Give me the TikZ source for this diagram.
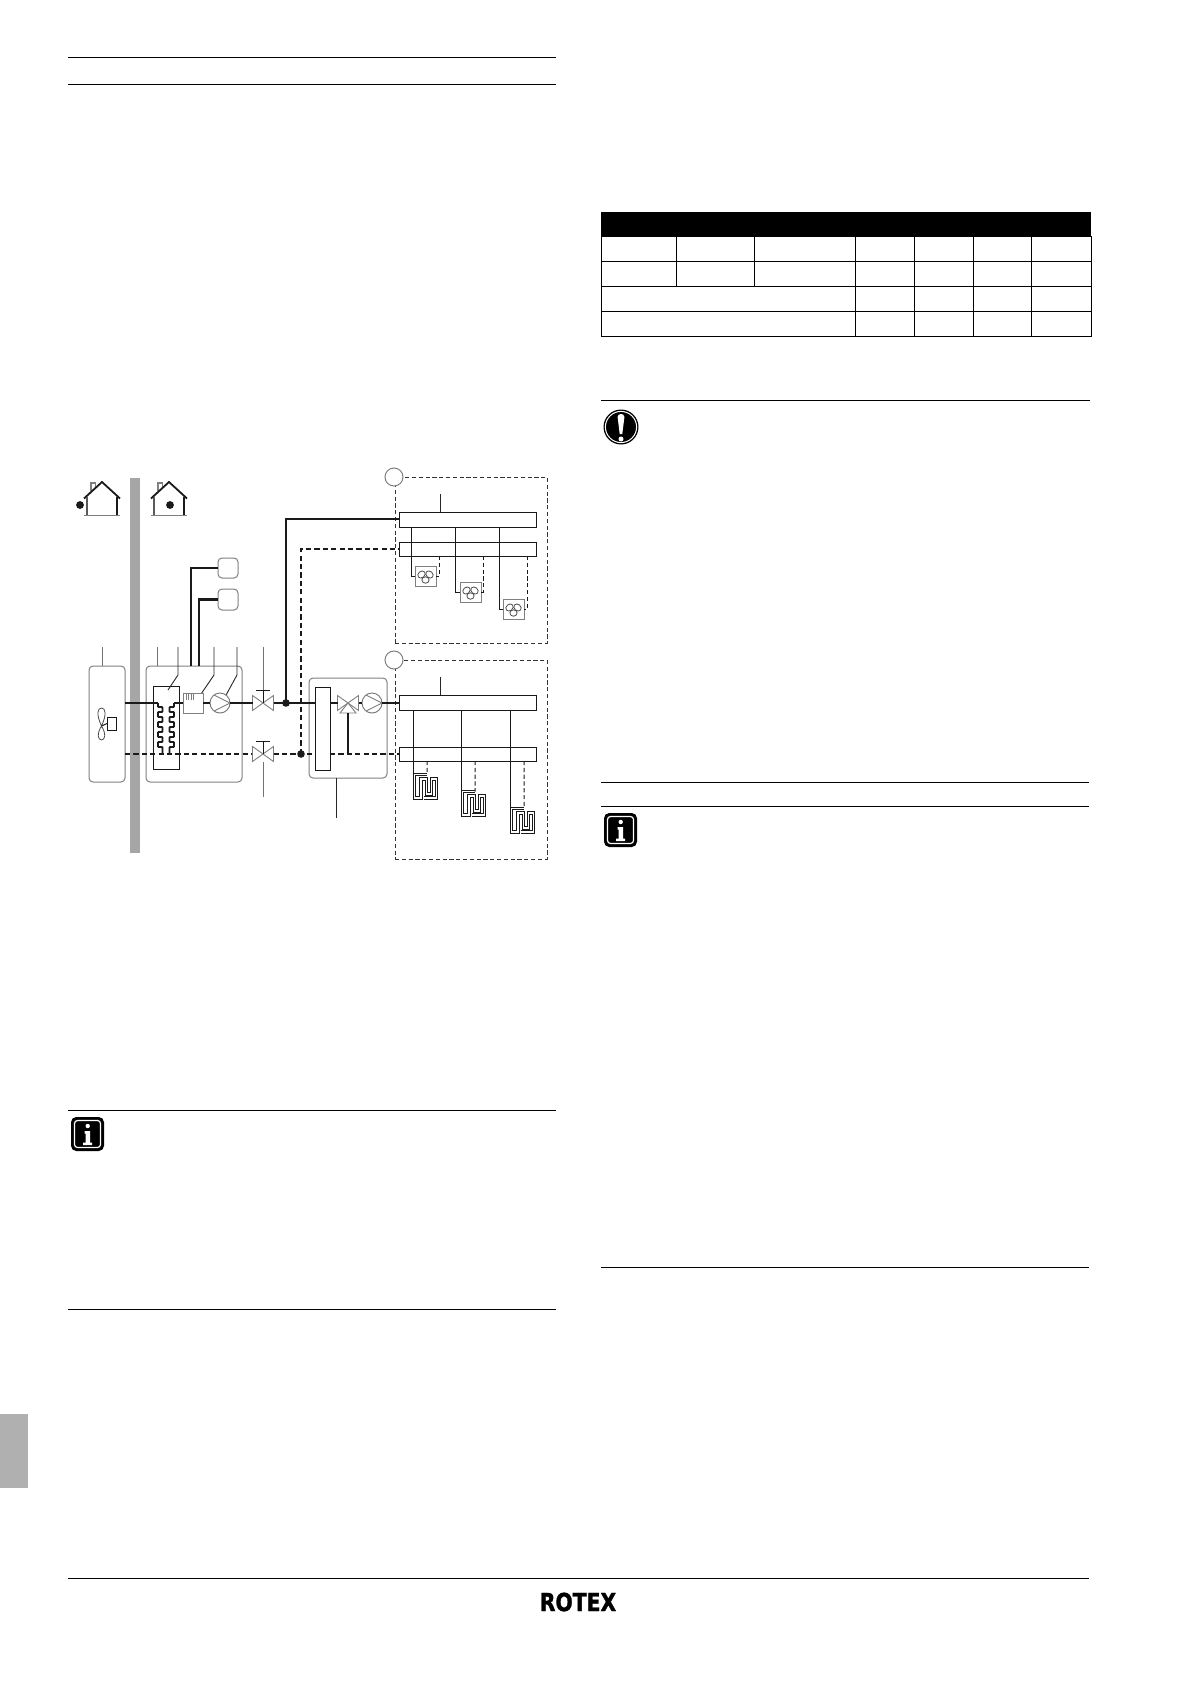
\documentclass[tikz,border=0pt]{standalone}
\usepackage{fontspec}
\usetikzlibrary{calc}
\newfontfamily\logofont{DejaVu Sans Bold}[FakeBold=1.6]
\definecolor{barg}{HTML}{A6A6A6}
\definecolor{sideg}{HTML}{B0B0B0}
\definecolor{outl}{HTML}{808080}
\definecolor{ink}{HTML}{1A1A1A}
\tikzset{
  rulebar/.style={line width=.5pt,black},
  tableline/.style={line width=.5pt,black},
  pipe/.style={line width=1.4pt,ink},
  pipedash/.style={pipe,dash pattern=on 2.6pt off 1.6pt},
  thinline/.style={line width=.5pt,ink},
  thindash/.style={thinline,dash pattern=on 2.1pt off 1.3pt},
  graypart/.style={line width=.45pt,outl},
  fanlobe/.style={line width=.4pt,black!70},
  leader/.style={line width=.45pt,black!55},
  leaderdark/.style={line width=.45pt,black!85},
  unitbox/.style={draw=outl,line width=.5pt,rounded corners=2pt,fill=white,inner sep=0pt,outer sep=0pt},
  solidbox/.style={draw=ink,line width=.5pt,fill=white,inner sep=0pt,outer sep=0pt},
  smallbox/.style={draw=outl,line width=.5pt,fill=white,inner sep=0pt,outer sep=0pt},
  zonebox/.style={draw=black!80,line width=.5pt,dash pattern=on 2.1pt off 1.3pt,inner sep=0pt,outer sep=0pt},
  pumpc/.style={circle,draw=outl,line width=.5pt,fill=white,inner sep=0pt,outer sep=0pt,minimum size=10pt},
  zonec/.style={circle,draw=outl,line width=.5pt,fill=white,inner sep=0pt,outer sep=0pt,minimum size=9pt},
  jdot/.style={circle,fill=ink,inner sep=0pt,outer sep=0pt,minimum size=3.8pt},
  coilpath/.style={line width=.5pt,double=white,double distance=.7pt,draw=ink,miter limit=10},
  hxcoil/.style={line width=.95pt,ink,rounded corners=.4pt},
}
% #1 name, #2 style, #3-#6 x1,y1,x2,y2 in page pixels
\newcommand{\pxbox}[6]{\node[#2,minimum width={(#5-#3)*0.5pt},minimum height={(#6-#4)*0.5pt}] (#1) at ({(#3+#5)/2},{(#4+#6)/2}) {};}
\newcommand{\straightlead}[6]{\coordinate (#1a) at (#3,#4);\coordinate (#1b) at (#5,#6);\draw[#2] (#1a) -- (#1b);}
\newcommand{\bentlead}[6]{\coordinate (#1a) at (#2,647);\coordinate (#1b) at (#2,#3);\coordinate (#1c) at (#4,#5);\draw[#6] (#1a) -- (#1b) -- (#1c);}
\newcommand{\housepic}[3]{\begin{scope}[shift={(#2,0)}]
  \draw[line width=.6pt,outl] (7,491) -- (7,483) -- (11.5,483) -- (11.5,488);
  \draw[line width=.9pt,ink] (0,498.5) -- (18,482) -- (36,498.5);
  \draw[line width=.65pt,black!65] (3,497) -- (3,515);
  \draw[line width=.65pt,ink] (33,497) -- (33,515);
  \draw[line width=.5pt,outl] (0,515) -- (36,515);
  \node[jdot,minimum size=3.9pt] (#1) at (#3,505) {};
\end{scope}}
\newcommand{\valvepic}[3]{\coordinate (#1) at (#2,#3);
  \coordinate (#1w) at (#2-10.5,#3);\coordinate (#1e) at (#2+10.5,#3);\coordinate (#1t) at (#2,#3-13);
  \draw[graypart,fill=white,line join=miter] (#2-10.5,#3-7.5) -- (#2+10.5,#3+7.5) -- (#2+10.5,#3-7.5) -- (#2-10.5,#3+7.5) -- cycle;}
\newcommand{\pumppic}[3]{\node[pumpc] (#1) at (#2,#3) {};
  \draw[graypart] (#2-6,#3-8) -- (#2+10,#3) -- (#2-6,#3+8);}
\newcommand{\fanpic}[5]{\pxbox{#1}{smallbox}{#2}{#3}{#2+21}{#3+20}
  \begin{scope}[shift={(#2+10.5,#3+10)}]
    \draw[fanlobe,rotate around={40:(-4,-1.5)}] (-4,-1.5) ellipse (4 and 3.2);
    \draw[fanlobe,rotate around={-40:(4,-1.5)}] (4,-1.5) ellipse (4 and 3.2);
    \draw[fanlobe] (0,4) ellipse (3.6 and 3.2);
  \end{scope}
  \coordinate (#1s) at (#4,527);\coordinate (#1r) at (#5,556);
  \draw[thinline] (#1s) |- (#1.west);
  \draw[thindash] (#1r) |- (#1.east);}
\newcommand{\coilpic}[3]{\begin{scope}[shift={(#2,#3)}]
  \coordinate (#1in) at (12.8,0);\coordinate (#1top) at (-1.2,0);
  \draw[coilpath] (12.3,0) -- (0,0) -- (0,23.3) -- (6.8,23.3) -- (6.8,4.3) -- (12,4.3) -- (12,19.5) -- (17.5,19.5) -- (17.5,4.3) -- (22.3,4.3) -- (22.3,23.3) -- (9.8,23.3);
\end{scope}}
\newcommand{\infoicon}[2]{\begin{scope}[shift={(#1,#2)}]
  \fill[black,rounded corners=2.6pt] (0,0) rectangle (33,34);
  \draw[white,line width=.6pt,rounded corners=1.5pt] (3.5,3.5) rectangle (29.5,30.5);
  \fill[white] (16.7,9) circle (2.2);
  \fill[white] (13.5,14) -- (19,14) -- (19,25.5) -- (21,25.5) -- (21,28) -- (12,28) -- (12,25.5) -- (14.6,25.5) -- (14.6,16.5) -- (13.5,16.5) -- cycle;
\end{scope}}
\begin{document}
\begin{tikzpicture}[x=.5pt,y=-.5pt]
\useasboundingbox (0,0) rectangle (1191,1685);
\fill[white] (0,0) rectangle (1191,1685);

% page furniture
\fill[sideg] (0,1414) rectangle (28,1488);
\draw[rulebar] (68,58) -- (556,58);
\draw[rulebar] (68,85) -- (556,85);
\draw[rulebar] (68,1110) -- (556,1110);
\draw[rulebar] (68,1309) -- (556,1309);
\draw[rulebar] (601,400) -- (1090,400);
\draw[rulebar] (601,782) -- (1089,782);
\draw[rulebar] (601,806) -- (1089,806);
\draw[rulebar] (601,1267) -- (1089,1267);
\draw[rulebar] (68,1578) -- (1089,1578);
\infoicon{71}{1117}
\infoicon{604}{813}

% warning icon
\fill[black] (621,427) circle (17.5);
\draw[white,line width=.5pt] (621,427) circle (15.6);
\fill[white] (617.6,417) .. controls (617.6,413) and (624.4,413) .. (624.4,417) -- (622.3,434) -- (619.7,434) -- cycle;
\fill[white] (621,439) circle (2.5);

% table
\fill[black] (601,212) rectangle (1091,237);
\draw[tableline] (601,237) rectangle (1091,336);
\foreach \yy in {261,286,311} \draw[tableline] (601,\yy) -- (1091,\yy);
\foreach \xx in {676,754} \draw[tableline] (\xx,237) -- (\xx,286);
\foreach \xx in {855,914,973,1031} \draw[tableline] (\xx,237) -- (\xx,336);

% logo
\node[inner sep=0pt,anchor=center] (logo) at (578,1602) {\scalebox{.82}[1]{\logofont\fontsize{12.4pt}{13pt}\selectfont ROTEX}};

% wall
\fill[barg] (130,478) rectangle (140,853);

% houses
\housepic{outdot}{84}{-4}
\housepic{indot}{151}{19}

% zones
\pxbox{zoneA}{zonebox}{395}{477}{547}{643}
\pxbox{zoneB}{zonebox}{395}{660}{547}{859}
\node[zonec] (zcA) at (394,477) {};
\node[zonec] (zcB) at (394,660) {};

% units
\pxbox{outdoor}{unitbox}{89}{666}{125}{782}
\pxbox{indoor}{unitbox}{146}{666}{242}{782}
\pxbox{mixer}{unitbox}{309}{678}{387}{778}
\pxbox{auxA}{unitbox}{218}{558}{238}{578}
\pxbox{auxB}{unitbox}{218}{589}{238}{610}
\pxbox{hx}{solidbox}{153}{686}{179}{769}
\pxbox{sep}{solidbox}{315}{687}{330}{770}

% leader lines
\straightlead{la}{leader}{102}{647}{102}{666}
\straightlead{lb}{leader}{157}{647}{157}{666}
\bentlead{lc}{178}{675}{168}{690}{leaderdark}
\bentlead{ld}{214}{675}{199}{697}{leaderdark}
\bentlead{le}{237}{675}{225}{697}{leaderdark}
\straightlead{lf}{leader}{263}{647}{263}{690}
\straightlead{lg}{leader}{263}{762}{263}{797}
\straightlead{lh}{leaderdark}{336}{778}{336}{818}

% outdoor fan
\coordinate (fanhub) at (101.5,726);
\draw[fanlobe] (fanhub) .. controls (96,714) and (97.5,708) .. (101.5,708) .. controls (105.5,708) and (107,714) .. (fanhub);
\draw[fanlobe] (fanhub) .. controls (96.5,734) and (98,740) .. (101.5,740) .. controls (105,740) and (106.5,734) .. (fanhub);
\pxbox{fanmotor}{solidbox}{107}{717}{116}{730}
\draw[thinline] (fanhub) -- (fanmotor.west);

% named points on the pipe runs
\coordinate (oS) at (125,703);
\coordinate (oR) at (125,754);
\coordinate (coilL) at (158,703);
\coordinate (coilR) at (174,703);
\coordinate (j1) at (286,703);
\coordinate (j2) at (301,754);
\coordinate (sepW) at (315,703);
\coordinate (sepE) at (330,703);
\coordinate (sepWr) at (315,754);
\coordinate (sepEr) at (330,754);
\coordinate (stemB) at (348,754);
\coordinate (mBt) at (399,703);
\coordinate (mDr) at (399,754);
\coordinate (mAin) at (399,519);
\coordinate (mBin) at (399,549);
\coordinate (v2wl) at (252,754);
\coordinate (feedA) at (191,666);
\coordinate (feedB) at (199,666);

% manifolds
\pxbox{mA}{solidbox}{399}{512}{536}{527}
\pxbox{mB}{solidbox}{399}{542}{536}{556}
\pxbox{mC}{solidbox}{399}{695}{536}{710}
\pxbox{mD}{solidbox}{399}{747}{536}{761}
\straightlead{li}{leaderdark}{440}{494}{440}{512}
\straightlead{lj}{leaderdark}{440}{677}{440}{695}

% parts on the lines
\pxbox{tank}{smallbox}{183}{693}{203}{713}
\foreach \xx in {186,188.5,191,193.5} \draw[line width=.35pt,outl] (\xx,693) -- (\xx,700);
\pumppic{pumpA}{220}{703}
\valvepic{vA}{263}{703}
\valvepic{vB}{263}{754}
\valvepic{vC}{348}{703}
\draw[graypart,fill=white] (348,703) -- (356,713) -- (340,713) -- cycle;
\pumppic{pumpB}{372}{703}

% valve handles
\draw[thinline] (vA) -- (vAt);
\draw[thinline] (vB) -- (vBt);
\draw[thinline] ($(vAt)+(-7,0)$) -- ($(vAt)+(7,0)$);
\draw[thinline] ($(vBt)+(-7,0)$) -- ($(vBt)+(7,0)$);

% heat exchanger coils
\draw[hxcoil] (coilL) -- (158,707) -- (162.5,707) -- (162.5,712) -- (158,712) -- (158,717) -- (162.5,717) -- (162.5,722) -- (158,722) -- (158,727) -- (162.5,727) -- (162.5,732) -- (158,732) -- (158,737) -- (162.5,737) -- (162.5,742) -- (158,742) -- (158,747) -- (162.5,747) -- (162.5,753);
\draw[hxcoil] (coilR) -- (174,707) -- (169.5,707) -- (169.5,712) -- (174,712) -- (174,717) -- (169.5,717) -- (169.5,722) -- (174,722) -- (174,727) -- (169.5,727) -- (169.5,732) -- (174,732) -- (174,737) -- (169.5,737) -- (169.5,742) -- (174,742) -- (174,747) -- (169.5,747) -- (169.5,753);

% supply pipes
\draw[pipe] (oS) -- (coilL);
\draw[pipe] (coilR) -- (tank.west);
\draw[pipe] (tank.east) -- (pumpA.west);
\draw[pipe] (pumpA.east) -- (vAw);
\draw[pipe] (vAe) -- (j1) -- (sepW);
\draw[pipe] (sepE) -- (vCw);
\draw[pipe] (vCe) -- (pumpB.west);
\draw[pipe] (pumpB.east) -- (mBt);
\draw[pipe] (j1) |- (mAin);
\draw[pipe] (feedA) |- (auxA.west);
\draw[pipe] (feedB) |- (auxB.west);
\coordinate (stemT) at (348,713);
\draw[pipe] (stemT) -- (stemB);

% return pipes
\draw[pipedash] (oR) -- (v2wl);
\draw[pipedash] (vBe) -- (j2) -- (sepWr);
\draw[pipedash] (sepEr) -- (mDr);
\draw[pipedash] (j2) |- (mBin);

\node[jdot] (dotA) at (j1) {};
\node[jdot] (dotB) at (j2) {};

% fan coil units
\fanpic{fanA}{415}{566}{411}{439}
\fanpic{fanB}{460}{582}{455}{483}
\fanpic{fanC}{503}{599}{499}{527}

% underfloor loops
\coilpic{loopA}{414.2}{774.5}
\coilpic{loopB}{462.2}{791.5}
\coilpic{loopC}{511.2}{808.5}
\coordinate (sA) at (413,710);
\coordinate (sB) at (461,710);
\coordinate (sC) at (510,710);
\coordinate (rA) at (427,761);\coordinate (rB) at (475,761);\coordinate (rC) at (524,761);
\draw[thinline] (sA) -- (loopAtop);
\draw[thinline] (sB) -- (loopBtop);
\draw[thinline] (sC) -- (loopCtop);
\draw[thindash] (rA) -- (loopAin);
\draw[thindash] (rB) -- (loopBin);
\draw[thindash] (rC) -- (loopCin);
\end{tikzpicture}
\end{document}
